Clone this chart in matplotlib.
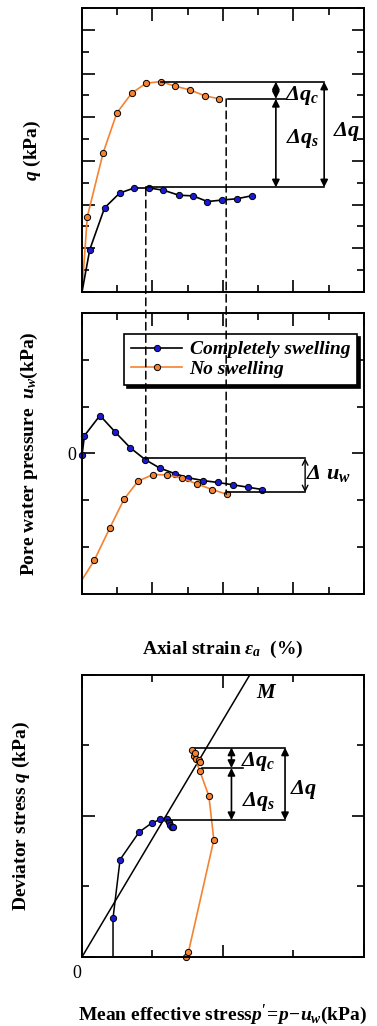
import matplotlib
matplotlib.use('Agg')
import matplotlib.pyplot as plt
from matplotlib.patches import ConnectionPatch
from matplotlib.ticker import MultipleLocator

plt.rcParams['font.family'] = ['Liberation Serif', 'DejaVu Serif']
plt.rcParams['font.weight'] = 'bold'
plt.rcParams['axes.labelweight'] = 'bold'
plt.rcParams['mathtext.fontset'] = 'custom'
plt.rcParams['mathtext.rm'] = 'Liberation Serif:bold'
plt.rcParams['mathtext.it'] = 'Liberation Serif:italic:bold'
plt.rcParams['mathtext.bf'] = 'Liberation Serif:bold'

# Couleurs
ORANGE = '#f5822f'
BLUE = '#1a1ad6'

# Données (unités = graduations)
# q - déformation axiale
strain_q_swell = [0, 0.22, 0.64, 1.07, 1.48, 1.91, 2.31, 2.75, 3.15, 3.56, 3.98, 4.40, 4.83]
q_swell = [0, 1.94, 3.85, 4.53, 4.76, 4.76, 4.66, 4.43, 4.40, 4.14, 4.21, 4.27, 4.41]
strain_q_noswell = [0, 0.15, 0.60, 0.99, 1.41, 1.82, 2.23, 2.65, 3.06, 3.49, 3.90]
q_noswell = [0, 3.44, 6.37, 8.20, 9.10, 9.56, 9.63, 9.42, 9.25, 8.98, 8.84]

# pression interstitielle - déformation axiale
strain_u_swell = [0, 0.07, 0.51, 0.95, 1.37, 1.79, 2.20, 2.63, 3.02, 3.44, 3.86, 4.28, 4.70, 5.11]
u_swell = [-0.04, 0.38, 0.81, 0.45, 0.12, -0.13, -0.31, -0.43, -0.52, -0.58, -0.62, -0.67, -0.72, -0.77]
strain_u_noswell = [0, 0.35, 0.79, 1.19, 1.59, 2.02, 2.42, 2.84, 3.26, 3.69, 4.10]
u_noswell = [-2.70, -2.28, -1.59, -0.98, -0.59, -0.45, -0.46, -0.53, -0.65, -0.77, -0.87]

# chemin de contraintes p' - q
p_swell = [0.44, 0.44, 0.54, 0.81, 0.99, 1.11, 1.20, 1.23, 1.25, 1.27, 1.28, 1.29]
qp_swell = [0, 0.55, 1.38, 1.77, 1.90, 1.95, 1.95, 1.91, 1.87, 1.85, 1.84, 1.85]
p_noswell = [1.48, 1.51, 1.87, 1.80, 1.67, 1.59, 1.56, 1.60, 1.62, 1.66, 1.68]
qp_noswell = [0, 0.07, 1.66, 2.28, 2.64, 2.85, 2.93, 2.89, 2.81, 2.79, 2.77]
M_p = [0, 2.38]
M_q = [0, 4.0]

fig = plt.figure(figsize=(3.77, 10.26), dpi=100)
ax1 = fig.add_axes([0.2175, 0.7154, 0.748, 0.2768])
ax2 = fig.add_axes([0.2175, 0.4211, 0.748, 0.2739])
ax3 = fig.add_axes([0.2175, 0.0673, 0.748, 0.2749])


def style_axes(ax):
    for s in ax.spines.values():
        s.set_linewidth(1.4)
    ax.xaxis.set_major_locator(MultipleLocator(2))
    ax.xaxis.set_minor_locator(MultipleLocator(1))
    ax.yaxis.set_major_locator(MultipleLocator(2))
    ax.yaxis.set_minor_locator(MultipleLocator(1))
    ax.tick_params(which='both', direction='in', top=True, right=True, width=1.2,
                   labelbottom=False, labelleft=False)
    ax.tick_params(which='major', length=9)
    ax.tick_params(which='minor', length=5)


def delta(ax, x, y, sub):
    # Δ en italique gras, indice en mathtext
    ax.text(x, y, 'Δ$q' + sub + '$', fontsize=16, fontstyle='italic', fontweight='bold',
            ha='center', va='center')


mk = dict(marker='o', markersize=4.5, markeredgecolor='k', markeredgewidth=0.7)

# --- graphe du haut : q ---
ax1.plot(strain_q_noswell, q_noswell, color=ORANGE, lw=1.2, markerfacecolor=ORANGE,
         markevery=list(range(1, len(q_noswell))), **mk)
ax1.plot(strain_q_swell, q_swell, color='k', lw=1.2, markerfacecolor=BLUE,
         markevery=list(range(1, len(q_swell))), **mk)
ax1.set_xlim(0, 8)
ax1.set_ylim(0, 13)
style_axes(ax1)
ax1.set_ylabel('$q$ (kPa)', fontsize=14, labelpad=28)

line_kw = dict(color='k', lw=1.2)
ax1.plot([2.23, 6.87], [9.63, 9.63], **line_kw)
ax1.plot([4.13, 5.76], [8.84, 8.84], **line_kw)
ax1.plot([1.81, 6.87], [4.79, 4.79], **line_kw)
arr = dict(arrowstyle='<|-|>', color='k', lw=1.2, shrinkA=0, shrinkB=0, mutation_scale=11)
ax1.annotate('', xy=(5.50, 9.63), xytext=(5.50, 8.84), arrowprops=arr)
ax1.annotate('', xy=(5.50, 8.84), xytext=(5.50, 4.79), arrowprops=arr)
ax1.annotate('', xy=(6.87, 9.63), xytext=(6.87, 4.79), arrowprops=arr)
delta(ax1, 6.25, 9.0, '_c')
delta(ax1, 6.25, 7.03, '_s')
delta(ax1, 7.5, 7.34, '')

# --- graphe du milieu : pression interstitielle ---
ax2.plot(strain_u_swell, u_swell, color='k', lw=1.2, markerfacecolor=BLUE,
         label='Completely swelling', clip_on=False, **mk)
ax2.plot(strain_u_noswell, u_noswell, color=ORANGE, lw=1.2, markerfacecolor=ORANGE,
         markevery=list(range(1, len(u_noswell))), label='No swelling', **mk)
ax2.set_xlim(0, 8)
ax2.set_ylim(-3, 3)
style_axes(ax2)
ax2.set_yticks([0])
ax2.set_yticklabels(['0'])
ax2.tick_params(axis='y', which='major', labelleft=True, labelsize=13, pad=4)
for t in ax2.get_yticklabels():
    t.set_fontweight('normal')
ax2.yaxis.set_minor_locator(MultipleLocator(1))
ax2.set_ylabel('Pore water pressure  $u_w$(kPa)', fontsize=14, labelpad=20)
ax2.set_xlabel(r'Axial strain $\epsilon_a$  (%)', fontsize=14, labelpad=32)

ax2.plot([1.79, 6.33], [-0.10, -0.10], **line_kw)
ax2.plot([4.10, 6.33], [-0.83, -0.83], **line_kw)
ax2.annotate('', xy=(6.33, -0.10), xytext=(6.33, -0.83),
             arrowprops=dict(arrowstyle='<->', color='k', lw=1.0, shrinkA=0, shrinkB=0))
ax2.text(7.0, -0.42, 'Δ $u_w$', fontsize=16, fontstyle='italic', fontweight='bold',
         ha='center', va='center')

leg = ax2.legend(loc='upper right', bbox_to_anchor=(0.975, 0.925), fancybox=False,
                 edgecolor='k', framealpha=1, borderaxespad=0, handlelength=2.6,
                 handletextpad=0.4, borderpad=0.35, labelspacing=0.1, numpoints=1,
                 shadow={'color': 'k', 'alpha': 1},
                 prop={'family': 'Liberation Serif', 'style': 'italic', 'weight': 'bold', 'size': 14})
leg.get_frame().set_linewidth(1.2)

# lignes pointillées reliant les deux graphes
for x, y_top, y_bot in [(1.81, 4.76, -0.13), (4.09, 8.84, -0.87)]:
    con = ConnectionPatch(xyA=(x, y_top), coordsA=ax1.transData,
                          xyB=(x, y_bot), coordsB=ax2.transData,
                          color='k', lw=1.1, linestyle=(0, (5, 3)))
    fig.add_artist(con)

# --- graphe du bas : chemin de contraintes ---
ax3.plot(M_p, M_q, color='k', lw=1.1)
ax3.plot(p_swell, qp_swell, color='k', lw=1.1, markerfacecolor=BLUE,
         markevery=list(range(1, len(p_swell))), **mk)
ax3.plot(p_noswell, qp_noswell, color=ORANGE, lw=1.2, markerfacecolor=ORANGE,
         clip_on=False, **mk)
ax3.set_xlim(0, 4)
ax3.set_ylim(0, 4)
style_axes(ax3)
ax3.text(2.62, 3.74, '$M$', fontsize=15, ha='center', va='center')
ax3.text(-0.07, -0.23, '0', fontsize=13, ha='center', va='center', fontweight='normal')

ax3.plot([1.60, 2.88], [2.97, 2.97], **line_kw)
ax3.plot([1.70, 2.28], [2.68, 2.68], **line_kw)
ax3.plot([1.20, 2.88], [1.94, 1.94], **line_kw)
ax3.annotate('', xy=(2.12, 2.97), xytext=(2.12, 2.68), arrowprops=arr)
ax3.annotate('', xy=(2.12, 2.68), xytext=(2.12, 1.94), arrowprops=arr)
ax3.annotate('', xy=(2.88, 2.97), xytext=(2.88, 1.94), arrowprops=arr)
delta(ax3, 2.5, 2.77, '_c')
delta(ax3, 2.5, 2.20, '_s')
delta(ax3, 3.15, 2.37, '')
ax3.set_ylabel('Deviator stress $q$ (kPa)', fontsize=14, labelpad=36)
ax3.set_xlabel("Mean effective stress$p'\\!=\\!p\\!-\\!u_w$(kPa)", fontsize=14, labelpad=33)

plt.savefig('out.png', dpi=100)
plt.close()
